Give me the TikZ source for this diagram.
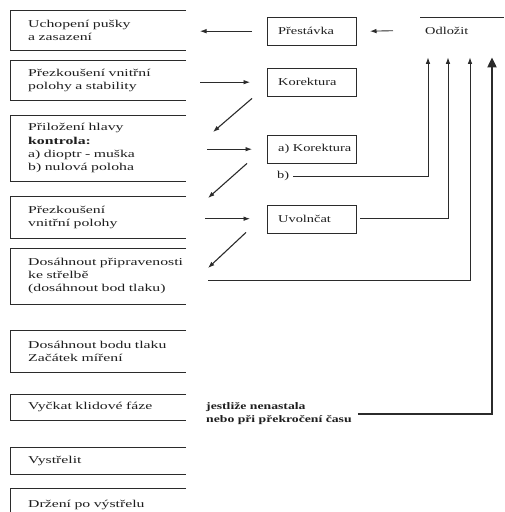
\documentclass[tikz,border=0pt]{standalone}
\usepackage{fontspec}
\setmainfont{Liberation Serif}[FakeStretch=1.37]
\newfontfamily\stagefont{Liberation Serif}[FakeStretch=1.5]
\usetikzlibrary{arrows.meta, positioning, calc}
\definecolor{inkline}{HTML}{2B2B2B}
\definecolor{inktext}{HTML}{1E1E1E}
\tikzset{
  stage/.style = {anchor=north west, text width=166pt, inner xsep=18pt, inner ysep=0pt,
                  align=left, text=inktext, font=\stagefont\fontsize{10.5}{13.2}\selectfont},
  akce/.style  = {anchor=north west, text width=80pt, inner xsep=11pt, inner ysep=0pt,
                  minimum height=28pt, align=left, text=inktext,
                  font=\fontsize{10.5}{13}\selectfont},
  note/.style  = {anchor=west, align=left, inner sep=1pt, text=inktext,
                  font=\fontsize{10.5}{13}\selectfont},
  edge/.style  = {draw=inkline, line width=0.7pt},
  flow/.style  = {-{Latex[length=6.5pt, width=4.6pt]}, draw=inkline, line width=0.9pt},
  slant/.style = {flow, line width=1.1pt},
  bigflow/.style={-{Triangle[length=10pt, width=9pt]}, draw=inkline, line width=2pt},
}
\begin{document}
\begin{tikzpicture}[x=1pt, y=-1pt]
  \useasboundingbox (0,0) rectangle (504,512);
  % left column of steps
  \node[stage, minimum height=40pt] (b1) at (10,10)  {Uchopení pušky\\a zasazení};
  \node[stage, minimum height=40pt] (b2) at (10,60)  {Přezkoušení vnitřní\\polohy a stability};
  \node[stage, minimum height=66pt] (b3) at (10,115) {Přiložení hlavy\\\textbf{kontrola:}\\a) dioptr - muška\\b) nulová poloha};
  \node[stage, minimum height=42pt] (b4) at (10,196) {Přezkoušení\\vnitřní polohy};
  \node[stage, minimum height=56pt] (b5) at (10,248) {Dosáhnout připravenosti\\ke střelbě\\(dosáhnout bod tlaku)};
  \node[stage, minimum height=42pt] (b6) at (10,330) {Dosáhnout bodu tlaku\\Začátek míření};
  \node[stage, minimum height=26pt] (b7) at (10,394) {Vyčkat klidové fáze};
  \node[stage, minimum height=27pt] (b8) at (10,447) {Vystřelit};
  \node[stage, minimum height=34pt] (b9) at (10,488) {Držení po výstřelu};
  \foreach \n in {b1,b2,b3,b4,b5,b6,b7,b8}{\draw[edge] (\n.north west) ++(176,0) -- (\n.north west) -- (\n.south west) -- ++(176,0);}
  \draw[edge] (b9.north west) ++(176,0) -- (b9.north west) -- (b9.south west);
  % right column
  \node[akce] (prest) at (267,17)  {Přestávka};
  \node[akce] (kor)   at (267,68)  {Korektura};
  \node[akce] (akor)  at (267,135) {a) Korektura};
  \node[akce, minimum height=27pt] (uvol) at (267,205) {Uvolnčat};
  \foreach \n in {prest,kor,akor,uvol}{\draw[edge] (\n.north west) rectangle ++(89,28);}
  \node[anchor=north west, minimum height=27pt, text width=74pt,
        inner xsep=5pt, inner ysep=0pt, align=left, text=inktext,
        font=\fontsize{10.5}{13}\selectfont] (odl) at (420,17) {Odložit};
  \draw[edge] (odl.north west) -- ++(84,0);
  \node[note] (bb) at (276,176) {b)};
  \node[note, font=\fontsize{10}{13}\selectfont\bfseries] (jest) at (205,414) {jestliže nenastala\\nebo při překročení času};
  \path (odl.south west) ++(8,13) coordinate (t1)
        (odl.south west) ++(28,13) coordinate (t2)
        (odl.south west) ++(50,13) coordinate (t3)
        (odl.south west) ++(72,13) coordinate (t4);
  \coordinate (r5) at ($(b5.south west)+(198,-24)$);
  % arrows
  \draw[flow] ([xshift=-15pt]prest.west) -- ([xshift=190pt]b1.west |- prest.west);
  \draw[flow] ([xshift=-27pt]odl.west) -- ([xshift=103pt]prest.west);
  \draw[flow] ([xshift=190pt]b2.west |- kor.west) -- ([xshift=-17pt]kor.west);
  \draw[slant] ([shift={(-15,2)}]kor.south west) -- ([shift={(203,17)}]b3.north west);
  \draw[flow] ([xshift=197pt]b3.west |- akor.west) -- ([xshift=-15pt]akor.west);
  \draw[slant] ([shift={(-20,0)}]akor.south west) -- ([shift={(198,2)}]b4.north west);
  \draw[flow] ([xshift=195pt]b4.west |- uvol.west) -- ([xshift=-17pt]uvol.west);
  \draw[slant] ([shift={(-21,0)}]uvol.south west) -- ([shift={(198,20)}]b5.north west);
  \draw[flow, shorten <=3pt] (bb.east) -| (t1);
  \draw[flow] ([xshift=93pt]uvol.west) -| (t2);
  \draw[flow] (r5) -| (t3);
  \draw[bigflow, shorten <=5pt] (jest.east |- jest.center) -| (t4);
\end{tikzpicture}
\end{document}
